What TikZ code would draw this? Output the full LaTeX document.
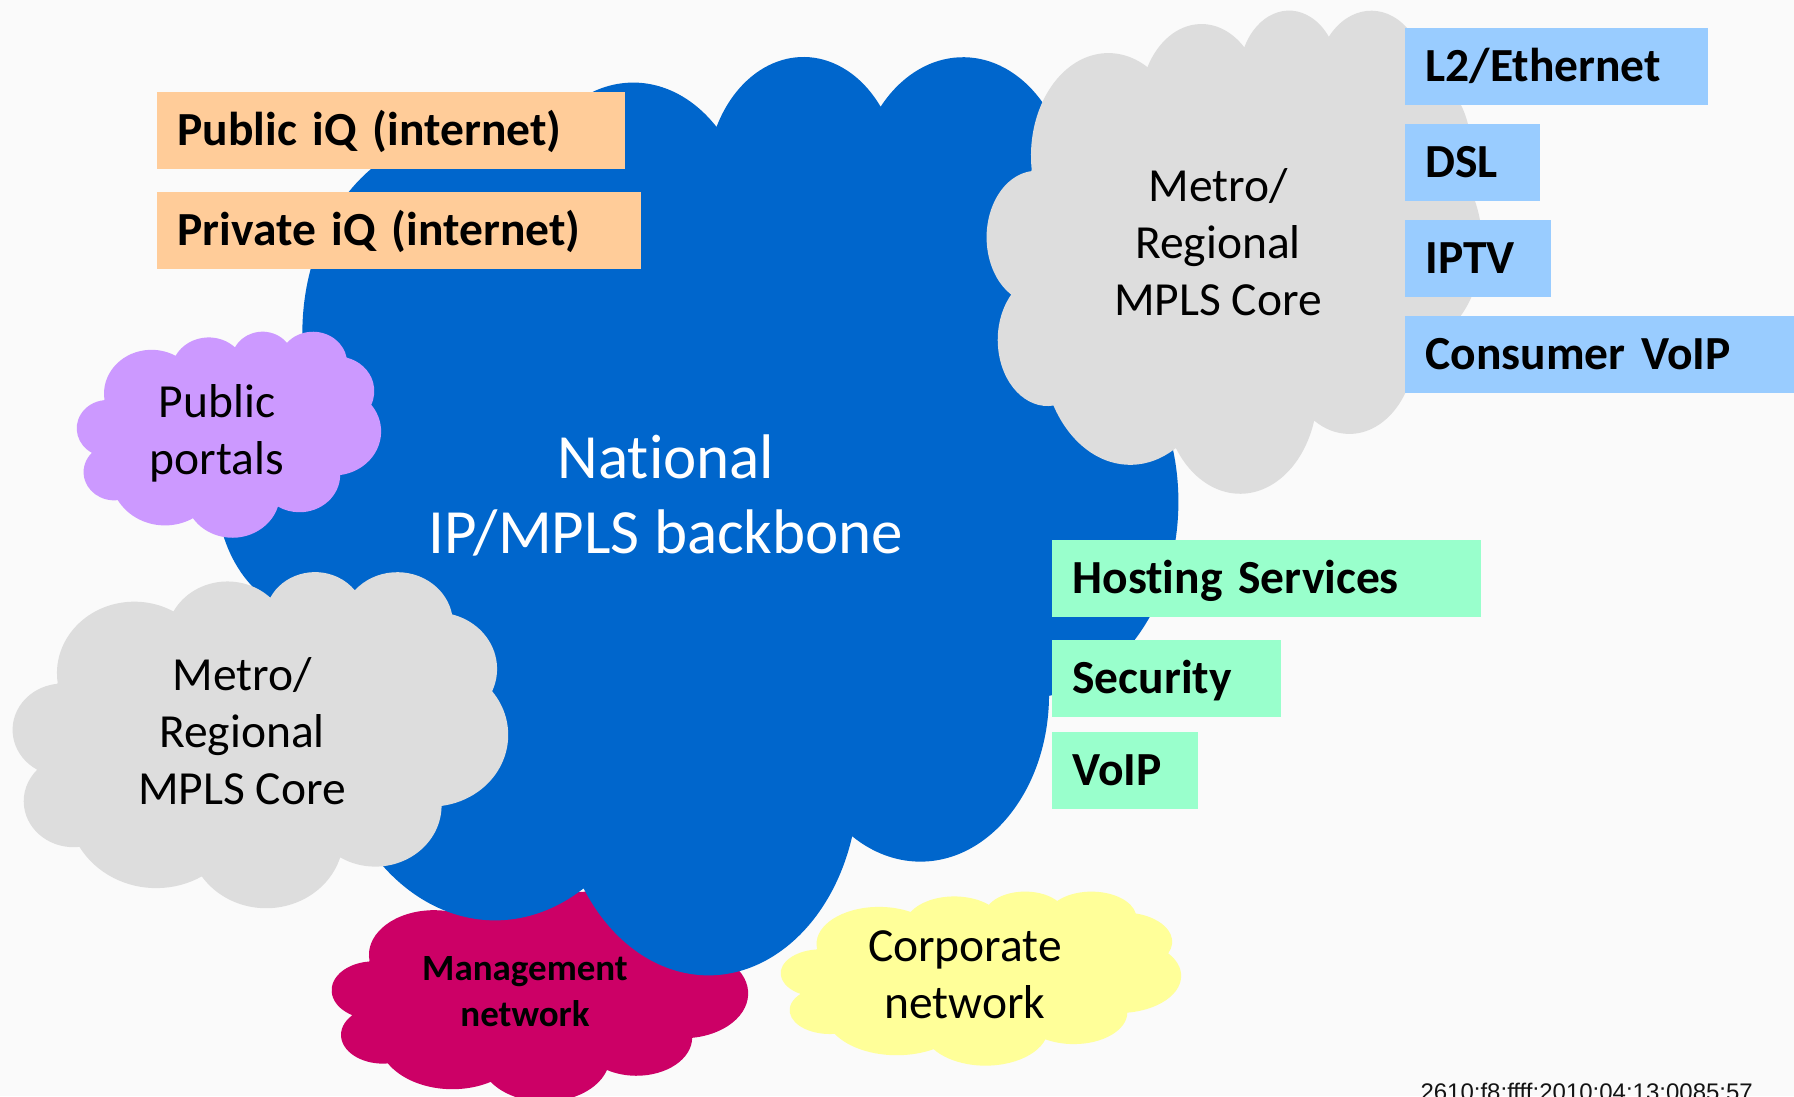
\documentclass[tikz,border=0pt]{standalone}
\usepackage{fontspec}
\setmainfont{Carlito}[Ligatures=NoCommon]
\newfontfamily\codefont{Liberation Sans}

% preset cloud outline, in a 432 x 432 box
\newcommand{\cloudpath}{(39,143.7)
  arc[x radius=67.53, y radius=91.90, start angle=-187.75, end angle=-59.64]
  arc[x radius=53.33, y radius=72.67, start angle=-152.02, end angle=-45.45]
  arc[x radius=43.65, y radius=59.45, start angle=-153.49, end angle=-37.32]
  arc[x radius=48.57, y radius=65.95, start angle=-139.72, end angle=-10.22]
  arc[x radius=53.33, y radius=72.73, start angle=-74.77, end angle=23.22]
  arc[x radius=67.75, y radius=92.20, start angle=-37.52, end angle=81.86]
  arc[x radius=57.85, y radius=78.67, start angle=0.46, end angle=121.98]
  arc[x radius=67.52, y radius=92.15, start angle=16.85, end angle=146.23]
  arc[x radius=77.20, y radius=105.43, start angle=58.98, end angle=150.19]
  arc[x radius=43.60, y radius=59.18, start angle=-276.69, end angle=-136.88]
  arc[x radius=43.45, y radius=59.45, start angle=-239.65, end angle=-95.89]
  -- cycle}

\begin{document}
\begin{tikzpicture}[x=0.4pt,y=0.4pt,yscale=-1,xscale=1,
  paper/.style={fill={rgb, 255:red, 250; green, 250; blue, 250}},
  backbone/.style={fill={rgb, 255:red, 0; green, 102; blue, 204}},
  metro/.style={fill={rgb, 255:red, 221; green, 221; blue, 221}},
  portal/.style={fill={rgb, 255:red, 204; green, 153; blue, 255}},
  mgmt/.style={fill={rgb, 255:red, 204; green, 0; blue, 102}},
  corp/.style={fill={rgb, 255:red, 255; green, 255; blue, 153}},
  tagbox/.style={anchor=north west, inner sep=0pt, inner xsep=8.4pt, minimum height=30.8pt, text height=12.2pt, text depth=0pt, align=left, font=\bfseries\fontsize{19}{22.8}\selectfont},
  iqbox/.style={tagbox, fill={rgb, 255:red, 255; green, 204; blue, 153}},
  accbox/.style={tagbox, fill={rgb, 255:red, 153; green, 204; blue, 255}},
  svcbox/.style={tagbox, fill={rgb, 255:red, 153; green, 255; blue, 204}},
  cloudtext/.style={align=center, anchor=base, inner sep=0pt, font=\fontsize{19}{22.8}\selectfont}
  ]
%Background
\path[use as bounding box] (0,0) rectangle (1794,1096);
\clip (0,0) rectangle (1794,1096);
\fill[paper] (0,0) rectangle (1794,1096);

%Shape: Cloud [management]
\begin{scope}[shift={(332,891)},xscale=416/432,yscale=210/432]
\fill[mgmt] \cloudpath;
\end{scope}
%Shape: Cloud [backbone]
\begin{scope}[shift={(217,54)},xscale=961/432,yscale=918/432]
\fill[backbone] \cloudpath;
\end{scope}
%Shape: Cloud [corporate]
\begin{scope}[shift={(781,891)},xscale=400/432,yscale=174/432]
\fill[corp] \cloudpath;
\end{scope}
%Shape: Cloud [portals]
\begin{scope}[shift={(77,331)},xscale=304/432,yscale=206/432]
\fill[portal] \cloudpath;
\end{scope}
%Shape: Cloud [metro left]
\begin{scope}[shift={(13,571)},xscale=495/432,yscale=336/432]
\fill[metro] \cloudpath;
\end{scope}
%Shape: Cloud [metro right]
\begin{scope}[shift={(987,9)},xscale=495/432,yscale=483/432]
\fill[metro] \cloudpath;
\end{scope}

% Text Node (base = last line)
\node[cloudtext, text=white, font=\fontsize{25.2}{30}\selectfont] (natbb) at (666,553) {National\\IP/MPLS backbone};
% Text Node
\node[cloudtext] (metroR) at (1218,315) {Metro/\\Regional\\MPLS Core};
% Text Node
\node[cloudtext] (metroL) at (242,804) {Metro/\\Regional\\MPLS Core};
% Text Node
\node[cloudtext] (portals) at (217,474) {Public\\portals};
% Text Node
\node[cloudtext] (corpnet) at (965,1018) {Corporate\\network};
% Text Node
\node[cloudtext, font=\bfseries\fontsize{14.8}{18.4}\selectfont] (mgmtnet) at (525,1026) {Management\\network};

% Label boxes
\node[iqbox, text width=170.4pt] (pubiq) at (156,91) {Public iQ (internet)};
\node[iqbox, text width=176.8pt] (priviq) at (156,191) {Private iQ (internet)};

\node[accbox, text width=104.4pt] (l2eth) at (1404,27) {L2/Ethernet};
\node[accbox, text width=37.2pt] (dsl) at (1404,123) {DSL};
\node[accbox, text width=41.6pt] (iptv) at (1404,219) {IPTV};
\node[accbox, text width=139.2pt] (cvoip) at (1404,315) {Consumer VoIP};

\node[svcbox, text width=154.8pt] (hosting) at (1051,539) {Hosting Services};
\node[svcbox, text width=74.8pt] (security) at (1051,639) {Security};
\node[svcbox, text width=41.6pt] (voip) at (1051,731) {VoIP};

% Text Node
\node[anchor=base west, inner sep=0pt, font=\codefont\fontsize{9.6}{11.5}\selectfont, text={rgb, 255:red, 20; green, 20; blue, 20}] (addr) at (1420,1100) {2610:f8:ffff:2010:04:13:0085:57};

\end{tikzpicture}
\end{document}
